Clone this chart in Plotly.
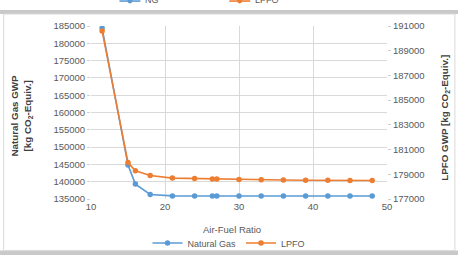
import plotly.graph_objects as go

# Data
air_fuel_ratio = [11.5, 15, 16, 18, 21, 24, 26.4, 27, 30, 33, 36, 39, 42, 45, 48]
natural_gas_gwp = [184400, 144800, 139300, 136300, 135900, 135870, 135860, 135860,
                   135850, 135850, 135850, 135850, 135850, 135850, 135850]
lpfo_gwp = [190600, 179950, 179280, 178900, 178690, 178650, 178620, 178610,
            178570, 178550, 178540, 178520, 178510, 178500, 178500]

series_names = ["Natural Gas", "LPFO"]
colors = ["#5B9BD5", "#ED7D31"]

W, H = 458, 255
L, R, T, B = 90.5, 387, 26, 199.3  # plot area in pixels

def px_x(x):
    return (x - L) / (R - L)

def px_y(y):
    return (B - y) / (B - T)

FONT = "Liberation Sans"
TICKCOL = "#595959"
TITLECOL = "#404040"

fig = go.Figure()
fig.add_trace(go.Scatter(
    x=air_fuel_ratio, y=natural_gas_gwp, name=series_names[0], mode="lines+markers",
    line=dict(color=colors[0], width=1.6), marker=dict(size=5.5, color=colors[0]),
    yaxis="y"))
fig.add_trace(go.Scatter(
    x=air_fuel_ratio, y=lpfo_gwp, name=series_names[1], mode="lines+markers",
    line=dict(color=colors[1], width=1.6), marker=dict(size=5.5, color=colors[1]),
    yaxis="y2"))

shapes = [
    dict(type="rect", xref="paper", yref="paper", x0=px_x(-5), x1=px_x(W + 5),
         y0=px_y(14), y1=px_y(10), fillcolor="#C9C9C9", line=dict(width=0), layer="below"),
    dict(type="rect", xref="paper", yref="paper", x0=px_x(-5), x1=px_x(W + 5),
         y0=px_y(H + 5), y1=px_y(251), fillcolor="#C9C9C9", line=dict(width=0), layer="below"),
    dict(type="rect", xref="paper", yref="paper", x0=px_x(3), x1=px_x(455),
         y0=px_y(251), y1=px_y(14), fillcolor="rgba(0,0,0,0)",
         line=dict(color="#D9D9D9", width=1), layer="below"),
    dict(type="line", xref="paper", yref="paper", x0=px_x(119), x1=px_x(140),
         y0=px_y(1), y1=px_y(1), line=dict(color=colors[0], width=1.6)),
    dict(type="circle", xref="paper", yref="paper", x0=px_x(127), x1=px_x(132),
         y0=px_y(3.5), y1=px_y(-1.5), fillcolor=colors[0], line=dict(width=0)),
    dict(type="line", xref="paper", yref="paper", x0=px_x(229), x1=px_x(250),
         y0=px_y(1), y1=px_y(1), line=dict(color=colors[1], width=1.6)),
    dict(type="circle", xref="paper", yref="paper", x0=px_x(237), x1=px_x(242),
         y0=px_y(3.5), y1=px_y(-1.5), fillcolor=colors[1], line=dict(width=0)),
]

annotations = [
    dict(text="NG", xref="paper", yref="paper", x=px_x(143), y=px_y(0),
         xanchor="left", yanchor="middle", showarrow=False,
         font=dict(family=FONT, size=9, color=TICKCOL)),
    dict(text="LPFO", xref="paper", yref="paper", x=px_x(253), y=px_y(0),
         xanchor="left", yanchor="middle", showarrow=False,
         font=dict(family=FONT, size=9, color=TICKCOL)),
    dict(text="<b>Natural Gas GWP<br>[kg CO<sub>2</sub>-Equiv.]</b>", xref="paper", yref="paper",
         x=px_x(21), y=px_y(116), xanchor="center", yanchor="middle", textangle=-90,
         showarrow=False, font=dict(family=FONT, size=9.8, color=TITLECOL)),
    dict(text="<b>LPFO GWP [kg CO<sub>2</sub>-Equiv.]</b>", xref="paper", yref="paper",
         x=px_x(445), y=px_y(118), xanchor="center", yanchor="middle", textangle=-90,
         showarrow=False, font=dict(family=FONT, size=9.8, color=TITLECOL)),
    dict(text="Air-Fuel Ratio", xref="paper", yref="paper",
         x=px_x(232), y=px_y(230), xanchor="center", yanchor="middle",
         showarrow=False, font=dict(family=FONT, size=9.5, color=TICKCOL)),
]

fig.update_layout(
    width=W, height=H,
    margin=dict(l=L, r=W - R, t=T, b=H - B, pad=0, autoexpand=False),
    paper_bgcolor="white", plot_bgcolor="white",
    font=dict(family=FONT, size=9, color=TICKCOL),
    showlegend=True,
    legend=dict(orientation="h", x=229 / W, xanchor="center", xref="container",
                y=1 - 243 / H, yanchor="middle", yref="container",
                font=dict(family=FONT, size=9, color=TICKCOL), bgcolor="rgba(0,0,0,0)",
                tracegroupgap=0),
    xaxis=dict(range=[10, 50], dtick=10, tick0=10, showgrid=True, gridcolor="#D9D9D9",
               gridwidth=1, zeroline=False, showline=False, ticks="", automargin=False,
               tickfont=dict(family=FONT, size=9.5, color=TICKCOL)),
    yaxis=dict(range=[135000, 185000], dtick=5000, tick0=135000, showgrid=True,
               gridcolor="#D9D9D9", gridwidth=1, zeroline=False, showline=False,
               ticks="outside", ticklen=3, tickcolor="#D0D0D0", tickformat="d",
               automargin=False,
               tickfont=dict(family=FONT, size=9.5, color=TICKCOL)),
    yaxis2=dict(range=[177000, 191000], dtick=2000, tick0=177000, overlaying="y", side="right",
                showgrid=False, zeroline=False, showline=False, tickformat="d",
                ticks="outside", ticklen=3, tickcolor="#D0D0D0", automargin=False,
                tickfont=dict(family=FONT, size=9.5, color=TICKCOL)),
    shapes=shapes,
    annotations=annotations,
)

fig.write_html(
    "out.html",
    config={"displayModeBar": False},
    post_script="document.body.style.margin='0px';document.body.style.padding='0px';",
)
